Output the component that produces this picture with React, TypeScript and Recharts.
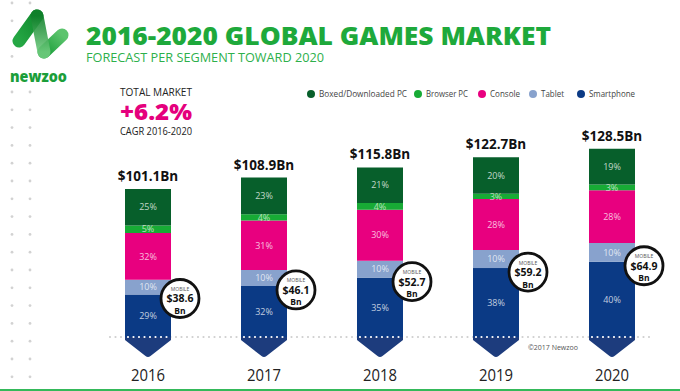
import React from 'react';
import { BarChart, Bar, XAxis, YAxis, LabelList } from 'recharts';

const YEARS = ['2016', '2017', '2018', '2019', '2020'];
const TOTALS = [101.1, 108.9, 115.8, 122.7, 128.5];
const MOBILE = [38.6, 46.1, 52.7, 59.2, 64.9];
const BOXED_PCT = [25, 23, 21, 20, 19];
const BROWSER_PCT = [5, 4, 4, 3, 3];
const CONSOLE_PCT = [32, 31, 30, 28, 28];
const TABLET_PCT = [10, 10, 10, 10, 10];
const PHONE_PCT = [29, 32, 35, 38, 40];

const SERIES = [
    { key: 'phone', name: 'Smartphone', color: '#0b3a85', pct: PHONE_PCT },
    { key: 'tablet', name: 'Tablet', color: '#88a2cd', pct: TABLET_PCT },
    { key: 'console', name: 'Console', color: '#e8007f', pct: CONSOLE_PCT },
    { key: 'browser', name: 'Browser PC', color: '#17ab35', pct: BROWSER_PCT },
    { key: 'boxed', name: 'Boxed/Downloaded PC', color: '#075f2b', pct: BOXED_PCT },
];

// legend reads top segment first
const LEGEND = [
    { name: 'Boxed/Downloaded PC', color: '#075f2b', x: 311, w: 88 },
    { name: 'Browser PC', color: '#17ab35', x: 418, w: 42 },
    { name: 'Console', color: '#e8007f', x: 482, w: 30 },
    { name: 'Tablet', color: '#88a2cd', x: 533, w: 23 },
    { name: 'Smartphone', color: '#0b3a85', x: 581, w: 46 },
];

const data = YEARS.map((year, i) => {
    const sum = SERIES.reduce((s, ser) => s + ser.pct[i], 0);
    const row: Record<string, any> = { year, total: TOTALS[i], mobile: MOBILE[i] };
    SERIES.forEach(ser => {
        row[ser.key] = (TOTALS[i] * ser.pct[i]) / sum;
        row[ser.key + 'Pct'] = ser.pct[i];
    });
    return row;
});

const FONT = '"Open Sans", Lato, sans-serif';

const PhoneShape = (props: any) => {
    const { x, y, width, height, fill } = props;
    const b = y + height;
    const cx = x + width / 2;
    return (
        <g>
            <rect x={x} y={y} width={width} height={height} fill={fill} />
            <path
                d={`M${x} ${b} H${x + width} V${b + 3} L${cx + 2.5} ${b + 19} Q${cx} ${b + 21} ${cx - 2.5} ${b + 19} L${x} ${b + 3} Z`}
                fill="#1d3c7d"
            />
            <line x1={x + 3} x2={x + width - 2} y1={b} y2={b} stroke="#fff" strokeWidth={2.2}
                strokeDasharray="0 5.5" strokeLinecap="round" />
        </g>
    );
};

const segLabel = (pctKey: string, light: boolean) => (props: any) => {
    const { x, y, width, height, index } = props;
    const pct = data[index][pctKey];
    return (
        <text x={x + width / 2} y={y + height / 2 + 3.2} textAnchor="middle" fontSize={9}
            fontFamily={FONT} fill={light ? '#e8f5e8' : '#fff'} fillOpacity={0.75}>
            {pct}%
        </text>
    );
};

const TotalLabel = (props: any) => {
    const { x, y, width, index } = props;
    return (
        <text x={x + width / 2} y={y - 8} textAnchor="middle" fontSize={13.5} fontWeight={700}
            fontFamily={FONT} fill="#111">
            ${TOTALS[index]}Bn
        </text>
    );
};

const MobileBadge = (props: any) => {
    const { x, y, width, index } = props;
    const cx = x + width + 9;
    const cy = y + 4;
    return (
        <g fontFamily={FONT}>
            <circle cx={cx} cy={cy} r={19} fill="#fff" stroke="#111" strokeWidth={2.8} />
            <text x={cx} y={cy - 7.5} textAnchor="middle" fontSize={5} fill="#555">MOBILE</text>
            <text x={cx} y={cy + 4} textAnchor="middle" fontSize={10.5} fontWeight={700} fill="#111">
                ${MOBILE[index]}
            </text>
            <text x={cx} y={cy + 15.5} textAnchor="middle" fontSize={8.5} fontWeight={700} fill="#111">Bn</text>
        </g>
    );
};

const YearTick = (props: any) => {
    const { x, payload } = props;
    return (
        <text x={x} y={381} textAnchor="middle" fontSize={16.5} fontFamily={FONT} fill="#222"
            textLength={34} lengthAdjust="spacingAndGlyphs">
            {payload.value}
        </text>
    );
};

const Decorations: React.FC = () => {
    const dots: React.ReactNode[] = [];
    for (let k = 0; k < 22; k++) {
        const y = 3 + k * 17.8;
        [12, 30].forEach(x => {
            if (y > 30 && y < 50 && x === 12) return;
            if (y > 15 && y < 85 && x === 30) return;
            if (y > 65 && y < 85) return;
            dots.push(<circle key={`${x}-${k}`} cx={x} cy={y} r={1.4} fill="#d2d2d2" />);
        });
    }
    return (
        <svg width={680} height={391} style={{ position: 'absolute', left: 0, top: 0 }} fontFamily={FONT}>
            <defs>
                <linearGradient id="lg1" x1="0" y1="1" x2="1" y2="0">
                    <stop offset="0%" stopColor="#25a744" />
                    <stop offset="100%" stopColor="#118a2e" />
                </linearGradient>
                <linearGradient id="lg2" x1="0" y1="0" x2="0" y2="1">
                    <stop offset="0%" stopColor="#0f7f2a" />
                    <stop offset="100%" stopColor="#6fcb7e" />
                </linearGradient>
                <linearGradient id="lg3" x1="0" y1="1" x2="1" y2="0">
                    <stop offset="0%" stopColor="#1b9e3a" />
                    <stop offset="100%" stopColor="#5cc46d" />
                </linearGradient>
            </defs>
            {dots}
            {/* logo */}
            <g strokeLinecap="round" strokeWidth={13} fill="none">
                <line x1={19} y1={41} x2={37} y2={16} stroke="url(#lg1)" />
                <line x1={44} y1={52} x2={62} y2={35} stroke="url(#lg3)" />
                <line x1={37} y1={16} x2={44} y2={52} stroke="url(#lg2)" strokeOpacity={0.9} />
            </g>
            <text x={10} y={82} fontSize={15} fontWeight={800} fill="#1b9e3a" textLength={57}
                lengthAdjust="spacingAndGlyphs">newzoo</text>
            {/* titles */}
            <text x={86} y={45} fontSize={24} fontWeight={800} fill="#1ea93b" textLength={465}
                lengthAdjust="spacingAndGlyphs">2016-2020 GLOBAL GAMES MARKET</text>
            <text x={86} y={62} fontSize={12.5} fill="#2db04b" textLength={238}
                lengthAdjust="spacingAndGlyphs">FORECAST PER SEGMENT TOWARD 2020</text>
            {/* total market */}
            <text x={120} y={96} fontSize={10.5} fill="#222" textLength={72} lengthAdjust="spacingAndGlyphs">TOTAL MARKET</text>
            <text x={120} y={120} fontSize={22} fontWeight={800} fill="#e5007d" textLength={72}
                lengthAdjust="spacingAndGlyphs">+6.2%</text>
            <text x={120} y={135} fontSize={10} fill="#222" textLength={72} lengthAdjust="spacingAndGlyphs">CAGR 2016-2020</text>
            {/* legend */}
            {LEGEND.map(l => (
                <g key={l.name}>
                    <circle cx={l.x} cy={94} r={4} fill={l.color} />
                    <text x={l.x + 8} y={97} fontSize={8.5} fill="#444" textLength={l.w}
                        lengthAdjust="spacingAndGlyphs">{l.name}</text>
                </g>
            ))}
            {/* baseline dots */}
            <line x1={110} x2={652} y1={337} y2={337} stroke="#cfcfcf" strokeWidth={2.2}
                strokeDasharray="0 5.5" strokeLinecap="round" />
            <text x={528} y={350} fontSize={7.5} fill="#555" textLength={50} lengthAdjust="spacingAndGlyphs">©2017 Newzoo</text>
            <rect x={0} y={389} width={680} height={2} fill="#34b95a" />
        </svg>
    );
};

const App: React.FC = () => {
    return (
        <div style={{ position: 'absolute', left: 0, top: 0, width: 680, height: 391, background: '#fff', overflow: 'hidden' }}>
            <Decorations />
            <div style={{ position: 'absolute', left: 0, top: 0 }}>
                <BarChart width={680} height={391} data={data} barSize={46}
                    margin={{ top: 132, right: 10, left: 90, bottom: 0 }}>
                    <XAxis dataKey="year" height={54} axisLine={false} tickLine={false} tick={YearTick} interval={0} />
                    <YAxis hide domain={[0, 140]} />
                    <Bar dataKey="phone" stackId="a" fill="#0b3a85" shape={PhoneShape} isAnimationActive={false}>
                        <LabelList dataKey="phone" content={segLabel('phonePct', false)} />
                        <LabelList dataKey="mobile" content={MobileBadge} />
                    </Bar>
                    <Bar dataKey="tablet" stackId="a" fill="#88a2cd" isAnimationActive={false}>
                        <LabelList dataKey="tablet" content={segLabel('tabletPct', false)} />
                    </Bar>
                    <Bar dataKey="console" stackId="a" fill="#e8007f" isAnimationActive={false}>
                        <LabelList dataKey="console" content={segLabel('consolePct', false)} />
                    </Bar>
                    <Bar dataKey="browser" stackId="a" fill="#17ab35" isAnimationActive={false}>
                        <LabelList dataKey="browser" content={segLabel('browserPct', true)} />
                    </Bar>
                    <Bar dataKey="boxed" stackId="a" fill="#075f2b" isAnimationActive={false}>
                        <LabelList dataKey="boxed" content={segLabel('boxedPct', false)} />
                        <LabelList dataKey="total" content={TotalLabel} />
                    </Bar>
                </BarChart>
            </div>
        </div>
    );
};

export default App;
